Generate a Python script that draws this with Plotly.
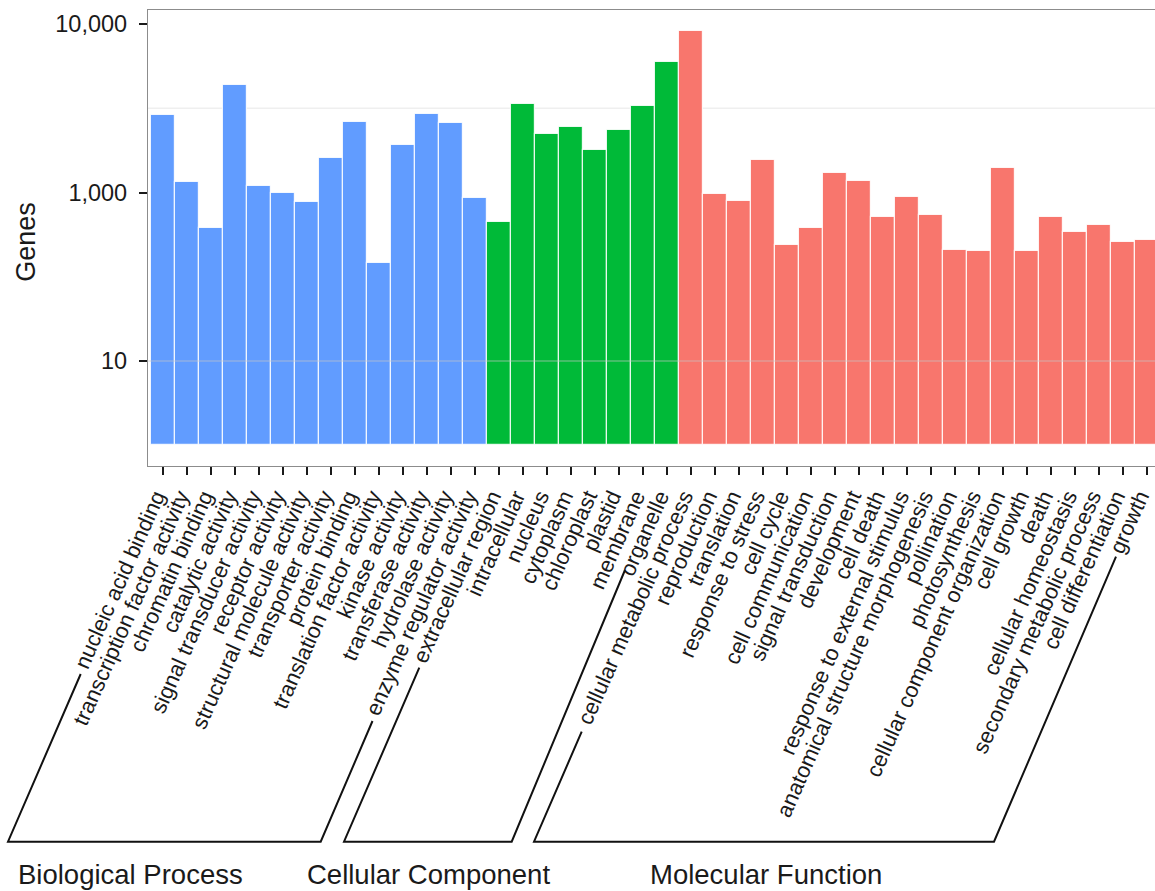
import numpy as np
import plotly.graph_objects as go

# GO term gene counts, one list per ontology
bp_terms = [
    "nucleic acid binding", "transcription factor activity", "chromatin binding",
    "catalytic activity", "signal transducer activity", "receptor activity",
    "structural molecule activity", "transporter activity", "protein binding",
    "translation factor activity", "kinase activity", "transferase activity",
    "hydrolase activity", "enzyme regulator activity",
]
bp_genes = [2870, 1150, 376, 4345, 1093, 977, 764, 1596, 2610, 147, 1905, 2915, 2596, 867]

cc_terms = [
    "extracellular region", "intracellular", "nucleus", "cytoplasm",
    "chloroplast", "plastid", "membrane", "organelle",
]
cc_genes = [447, 3337, 2234, 2438, 1780, 2359, 3262, 5973]

mf_terms = [
    "cellular metabolic process", "reproduction", "translation", "response to stress",
    "cell cycle", "cell communication", "signal transduction", "development",
    "cell death", "response to external stimulus", "anatomical structure morphogenesis",
    "pollination", "photosynthesis", "cellular component organization", "cell growth",
    "death", "cellular homeostasis", "secondary metabolic process",
    "cell differentiation", "growth",
]
mf_genes = [9120, 955, 800, 1560, 238, 376, 1305, 1170, 512, 877, 536, 210, 200,
            1398, 200, 512, 343, 411, 261, 273]

group_names = ["Biological Process", "Cellular Component", "Molecular Function"]
group_colours = ["#619CFF", "#00BA38", "#F8766D"]
tick_counts = [10, 1000, 10000]

# page geometry (pixels)
W, H = 1155, 891
L, T, B, R = 148, 10, 425, 0
plot_w = W - L - R
plot_h = H - T - B


def paper_x(px):
    return (px - L) / plot_w


def paper_y(py):
    return (H - B - py) / plot_h


def axis_pos(n):
    """Split log scale: two decades per step up to 1,000, one decade per step above."""
    lg = np.log10(np.asarray(n, dtype=float))
    return np.where(lg <= 3, 0.5 + lg / 2, lg - 1)


floor = float(axis_pos(1))
all_terms = bp_terms + cc_terms + mf_terms

fig = go.Figure()
for terms, genes, colour in zip([bp_terms, cc_terms, mf_terms],
                                [bp_genes, cc_genes, mf_genes], group_colours):
    pos = axis_pos(genes)
    fig.add_trace(go.Bar(
        x=terms, y=pos - floor, base=floor,
        marker=dict(color=colour, line=dict(color="rgba(255,255,255,0.85)", width=1.2)),
        customdata=genes,
        hovertemplate="%{x}: %{customdata:,}<extra></extra>",
        showlegend=False,
    ))

font_family = "Liberation Sans, Arial, sans-serif"

fig.update_layout(
    width=W, height=H,
    margin=dict(l=L, r=R, t=T, b=B, pad=0, autoexpand=False),
    paper_bgcolor="white", plot_bgcolor="white",
    barmode="overlay", bargap=0,
    font=dict(family=font_family, color="#1a1a1a"),
    xaxis=dict(
        type="category", categoryorder="array", categoryarray=all_terms,
        range=[-0.6125, 41.35], automargin=False,
        tickmode="array", tickvals=all_terms, ticktext=all_terms,
        tickangle=-66, tickfont=dict(size=22, color="#1a1a1a"),
        ticklabelshift=-7,
        ticks="outside", ticklen=8, tickwidth=1.7, tickcolor="#1a1a1a",
        showline=True, linecolor="#8c8c8c", linewidth=1.2, mirror=True,
        showgrid=False, zeroline=False,
    ),
    yaxis=dict(
        range=[0.3769, 3.0831], automargin=False,
        tickvals=list(axis_pos(tick_counts)),
        ticktext=[f"{c:,}" for c in tick_counts],
        tickfont=dict(size=23.5, color="#1a1a1a"),
        ticklabelstandoff=7,
        ticks="outside", ticklen=8, tickwidth=1.7, tickcolor="#1a1a1a",
        showline=True, linecolor="#8c8c8c", linewidth=1.2,
        showgrid=False, zeroline=False,
    ),
)

# faint guide lines
fig.add_shape(type="line", xref="paper", yref="y", x0=0, x1=1,
              y0=float(axis_pos(3162)), y1=float(axis_pos(3162)),
              line=dict(color="#efefef", width=1.5), layer="below")
fig.add_shape(type="line", xref="paper", yref="y", x0=0, x1=1,
              y0=float(axis_pos(10)), y1=float(axis_pos(10)),
              line=dict(color="rgba(200,200,200,0.45)", width=1.5), layer="above")

# ontology brackets under the term labels
brackets = [
    [(80.7, 674), (8, 841.7), (320.7, 841.7), (372.5, 721)],
    [(419.3, 667.7), (344, 841.7), (511.7, 841.7), (625, 570)],
    [(581.7, 731.7), (534, 841.7), (994, 841.7), (1116, 556.7)],
]
for pts in brackets:
    path = "M " + " L ".join(f"{paper_x(x):.5f},{paper_y(y):.5f}" for x, y in pts)
    fig.add_shape(type="path", xref="paper", yref="paper", path=path,
                  line=dict(color="#111111", width=2))

label_centres = [130.7, 428.7, 765.8]
for name, cx in zip(group_names, label_centres):
    fig.add_annotation(text=name, xref="paper", yref="paper",
                       x=paper_x(cx), y=paper_y(857), xanchor="center", yanchor="top",
                       showarrow=False, font=dict(size=27.5, color="#1a1a1a"))

fig.add_annotation(text="Genes", xref="paper", yref="paper",
                   x=paper_x(26), y=paper_y(241.7), xanchor="center", yanchor="middle",
                   textangle=-90, showarrow=False, font=dict(size=27, color="#1a1a1a"))

fig.write_html("out.html")
